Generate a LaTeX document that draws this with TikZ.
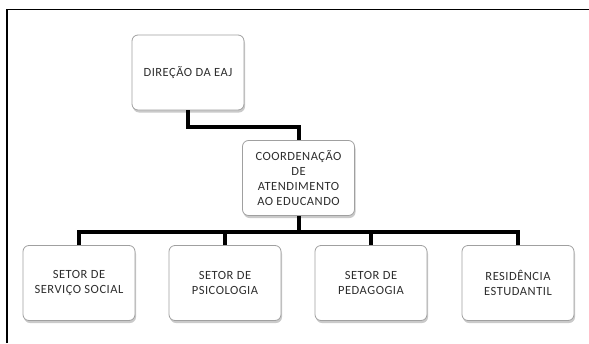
\documentclass[tikz,border=0pt]{standalone}
\usepackage{fontspec}
\setmainfont{Carlito}[LetterSpace=4]
\usetikzlibrary{shadows}
\definecolor{boxtext}{HTML}{2E2E2E}
\definecolor{boxedge}{HTML}{A0A0A0}
\tikzset{
  orgbox/.style={draw=boxedge, line width=0.8pt, fill=white, rounded corners=6pt,
    minimum width=112pt, minimum height=75pt, inner sep=2pt, align=center,
    text=boxtext, font=\fontsize{12.5}{15}\selectfont,
    drop shadow={shadow xshift=1pt, shadow yshift=-2.5pt, opacity=0.35, fill=black!60}},
  conn/.style={line width=4pt, black},
  frameline/.style={line width=1.5pt, black}
}
\begin{document}
\begin{tikzpicture}[x=1pt, y=-1pt]
\useasboundingbox (0,0) rectangle (589,343);
\coordinate (fa) at (7,343);
\coordinate (fb) at (7,9.5);
\coordinate (fc) at (589,9.5);
\draw[frameline] (fa) -- (fb) -- (fc);

\node[orgbox] (dir) at (188,72.5) {DIREÇÃO DA EAJ};
\node[orgbox] (coord) at (298.5,178) {COORDENAÇÃO\\DE\\ATENDIMENTO\\AO EDUCANDO};
\node[orgbox] (s1) at (79,283) {SETOR DE\\SERVIÇO SOCIAL};
\node[orgbox] (s2) at (225,283) {SETOR DE\\PSICOLOGIA};
\node[orgbox] (s3) at (371,283) {SETOR DE\\PEDAGOGIA};
\node[orgbox] (s4) at (518,283) {RESIDÊNCIA\\ESTUDANTIL};

\coordinate (j1) at (298.5,127);
\coordinate (bus) at (298.5,232);
\draw[conn] (dir.south) |- (j1) -- (coord.north);
\draw[conn] (coord.south) -- (bus);
\draw[conn] (s1.north) |- (bus);
\draw[conn] (s2.north) |- (bus);
\draw[conn] (s3.north) |- (bus);
\draw[conn] (s4.north) |- (bus);
\end{tikzpicture}
\end{document}
